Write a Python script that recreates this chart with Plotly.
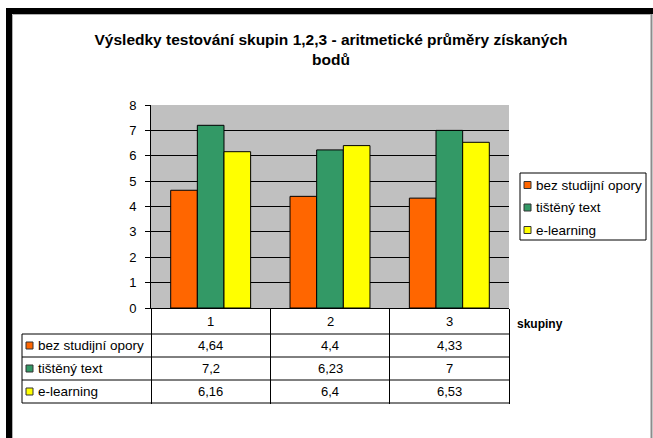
import plotly.graph_objects as go

# Test groups and the mean scores of each teaching variant
groups = ["1", "2", "3"]
series_names = ["bez studijní opory", "tištěný text", "e-learning"]
bez_opory = [4.64, 4.4, 4.33]
tisteny_text = [7.2, 6.23, 7]
e_learning = [6.16, 6.4, 6.53]
y_ticks = [0, 1, 2, 3, 4, 5, 6, 7, 8]
grid_ticks = [1, 2, 3, 4, 5, 6, 7]

series_values = [bez_opory, tisteny_text, e_learning]
colors = ["#FF6600", "#339966", "#FFFF00"]

FONT = "Liberation Sans, Arial, sans-serif"
W, H = 653, 438
# plot area in pixels
L, R, T, B = 151, 509, 105, 308


def px(x):
    return (x - L) / (R - L)


def py(y):
    return (B - y) / (B - T)


def fmt(v):
    return f"{v:g}".replace(".", ",")


fig = go.Figure()
for name, vals, col in zip(series_names, series_values, colors):
    fig.add_trace(go.Bar(
        x=groups, y=vals, name=name,
        marker=dict(color=col, line=dict(color="#000000", width=1)),
        showlegend=False, hoverinfo="skip",
    ))

shapes = []
annotations = []

# outer frame of the chart sheet
shapes += [
    dict(type="rect", xref="paper", yref="paper", x0=px(6), x1=px(12), y0=py(438), y1=py(8),
         fillcolor="#000000", line=dict(width=0), layer="above"),
    dict(type="rect", xref="paper", yref="paper", x0=px(6), x1=px(653), y0=py(14), y1=py(8),
         fillcolor="#000000", line=dict(width=0), layer="above"),
    dict(type="line", xref="paper", yref="paper", x0=px(651.5), x1=px(651.5), y0=py(438), y1=py(14),
         line=dict(color="#8c8c8c", width=2)),
    dict(type="line", xref="paper", yref="paper", x0=px(12.5), x1=px(651), y0=py(14.5), y1=py(14.5),
         line=dict(color="#b0b0b0", width=1)),
    dict(type="line", xref="paper", yref="paper", x0=px(12.5), x1=px(12.5), y0=py(438), y1=py(14.5),
         line=dict(color="#b0b0b0", width=1)),
]

# data table under the plot
row_edges = [308, 334, 357, 380, 403]
table_left = 22
for yy in row_edges[1:]:
    shapes.append(dict(type="line", xref="paper", yref="paper",
                       x0=px(table_left), x1=1, y0=py(yy), y1=py(yy),
                       line=dict(color="#000000", width=1)))
shapes.append(dict(type="line", xref="paper", yref="paper",
                   x0=px(table_left), x1=px(table_left), y0=py(row_edges[1]), y1=py(row_edges[-1]),
                   line=dict(color="#000000", width=1)))

# header row with group numbers (category index on the x axis)
for gi, g in enumerate(groups):
    annotations.append(dict(x=gi, xref="x", y=py((row_edges[0] + row_edges[1]) / 2), yref="paper",
                            text=g, showarrow=False, xanchor="center", yanchor="middle",
                            font=dict(family=FONT, size=13, color="#000000")))

for i, (name, vals, col) in enumerate(zip(series_names, series_values, colors)):
    yc = (row_edges[i + 1] + row_edges[i + 2]) / 2
    # key square and series label
    shapes.append(dict(type="rect", xref="paper", yref="paper",
                       x0=px(26), x1=px(33), y0=py(yc + 3.5), y1=py(yc - 3.5),
                       fillcolor=col, line=dict(color="#333333", width=1)))
    annotations.append(dict(x=px(36), xref="paper", y=py(yc), yref="paper", text=name,
                            showarrow=False, xanchor="left", yanchor="middle",
                            font=dict(family=FONT, size=13.5, color="#000000")))
    for gi, v in enumerate(vals):
        annotations.append(dict(x=gi, xref="x", y=py(yc), yref="paper", text=fmt(v),
                                showarrow=False, xanchor="center", yanchor="middle",
                                font=dict(family=FONT, size=13, color="#000000")))

# axis caption next to the table
annotations.append(dict(x=px(515), xref="paper", y=py(324), yref="paper", text="<b>skupiny</b>",
                        showarrow=False, xanchor="left", yanchor="middle",
                        font=dict(family=FONT, size=12, color="#000000")))

# legend box
shapes.append(dict(type="rect", xref="paper", yref="paper",
                   x0=px(520), x1=px(646), y0=py(240), y1=py(173),
                   fillcolor="#FFFFFF", line=dict(color="#000000", width=1)))
legend_rows = [185, 207.5, 230]
for name, col, yc in zip(series_names, colors, legend_rows):
    shapes.append(dict(type="rect", xref="paper", yref="paper",
                       x0=px(524), x1=px(531), y0=py(yc + 3.5), y1=py(yc - 3.5),
                       fillcolor=col, line=dict(color="#333333", width=1)))
    annotations.append(dict(x=px(534), xref="paper", y=py(yc), yref="paper", text=name,
                            showarrow=False, xanchor="left", yanchor="middle",
                            font=dict(family=FONT, size=13.5, color="#000000")))

fig.update_layout(
    width=W, height=H,
    margin=dict(l=L, r=W - R, t=T, b=H - B, pad=0),
    paper_bgcolor="#FFFFFF",
    plot_bgcolor="#C0C0C0",
    barmode="group", bargap=0.33, bargroupgap=0,
    title=dict(
        text="Výsledky testování skupin 1,2,3 - aritmetické průměry získaných<br>bodů",
        font=dict(family=FONT, size=15.5, color="#000000", weight="bold"),
        xref="container", yref="container", x=331 / W, xanchor="center",
        y=1 - 45 / H, yanchor="top",
    ),
    xaxis=dict(
        type="category", categoryorder="array", categoryarray=groups,
        range=[-0.5, 2.5], showgrid=False, zeroline=False,
        showline=True, linecolor="#000000", linewidth=1,
        tickson="boundaries", ticks="outside", ticklen=row_edges[-1] - row_edges[0],
        tickcolor="#000000", tickwidth=1, showticklabels=False,
    ),
    yaxis=dict(
        range=[0, 8], tickvals=y_ticks, ticktext=[str(t) for t in y_ticks],
        showgrid=False, zeroline=False,
        minor=dict(tickmode="array", tickvals=grid_ticks, showgrid=True,
                   gridcolor="#000000", gridwidth=1, ticks=""),
        showline=True, linecolor="#000000", linewidth=1,
        ticks="outside", ticklen=5, tickcolor="#000000", tickwidth=1,
        ticklabelstandoff=6,
        tickfont=dict(family=FONT, size=13, color="#000000"),
    ),
    shapes=shapes,
    annotations=annotations,
)

fig.write_html("out.html")
